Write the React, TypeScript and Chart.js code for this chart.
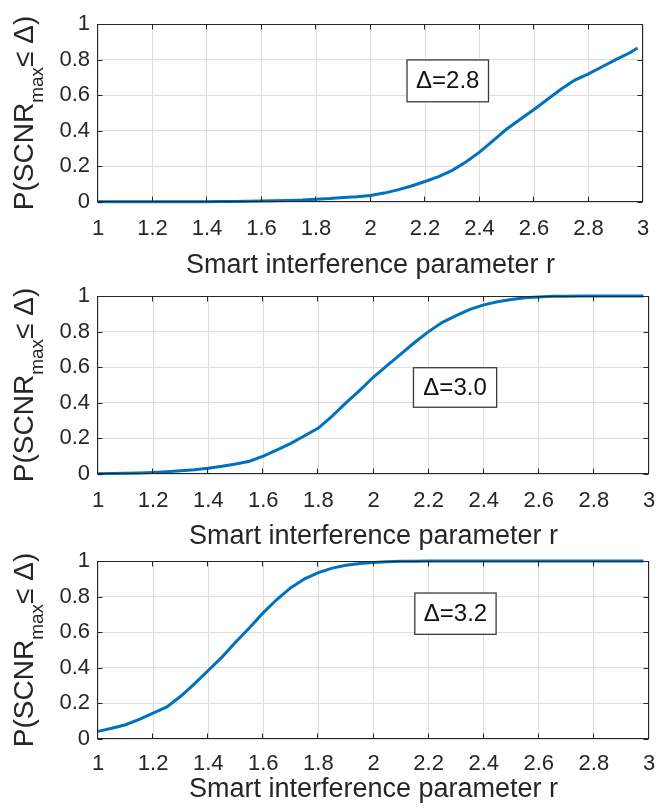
import React, { useEffect, useRef } from "react";
import { Chart, registerables } from "chart.js";

Chart.register(...registerables);

// Smart interference parameter r (shared sampling grid)
const rGrid = [
  1.0, 1.05, 1.1, 1.15, 1.2, 1.25, 1.3, 1.35, 1.4, 1.45, 1.5, 1.55, 1.6, 1.65, 1.7, 1.75,
  1.8, 1.85, 1.9, 1.95, 2.0, 2.05, 2.1, 2.15, 2.2, 2.25, 2.3, 2.35, 2.4, 2.45, 2.5, 2.55,
  2.6, 2.65, 2.7, 2.75, 2.8, 2.85, 2.9, 2.95, 2.98,
];

// P(SCNR_max <= Δ) for Δ = 2.8
const pDelta28 = [
  0.001, 0.001, 0.001, 0.001, 0.001, 0.001, 0.002, 0.002, 0.002, 0.003, 0.003, 0.004, 0.005,
  0.007, 0.009, 0.011, 0.015, 0.019, 0.025, 0.03, 0.037, 0.05, 0.068, 0.09, 0.115, 0.143,
  0.178, 0.225, 0.28, 0.345, 0.41, 0.465, 0.52, 0.577, 0.635, 0.685, 0.72, 0.76, 0.8, 0.837,
  0.865,
];

// Δ = 3.0
const pDelta30 = [
  0.002, 0.003, 0.004, 0.006, 0.009, 0.013, 0.018, 0.024, 0.032, 0.043, 0.056, 0.072, 0.1,
  0.135, 0.172, 0.215, 0.258, 0.325, 0.4, 0.47, 0.545, 0.61, 0.675, 0.74, 0.8, 0.852, 0.89,
  0.925, 0.95, 0.968, 0.98, 0.99, 0.995, 0.998, 0.999, 1, 1, 1, 1, 1, 1,
];

// Δ = 3.2
const pDelta32 = [
  0.043, 0.06, 0.08, 0.11, 0.145, 0.18, 0.24, 0.31, 0.385, 0.46, 0.545, 0.625, 0.71, 0.785,
  0.85, 0.9, 0.935, 0.96, 0.976, 0.986, 0.992, 0.996, 0.998, 0.999, 1, 1, 1, 1, 1, 1, 1, 1,
  1, 1, 1, 1, 1, 1, 1, 1, 1,
];

const xTickValues = [1, 1.2, 1.4, 1.6, 1.8, 2, 2.2, 2.4, 2.6, 2.8, 3];
const yTickValues = [0, 0.2, 0.4, 0.6, 0.8, 1];
const panelLabels = ["\u0394=2.8", "\u0394=3.0", "\u0394=3.2"];
const xTitle = "Smart interference parameter r";

const FONT = '"Liberation Sans", Arial, Helvetica, sans-serif';
const INK = "#262626";
const LINE = "#0072BD";

type Panel = {
  top: number;
  height: number;
  padTop: number;
  padRight: number;
  xAxisH: number;
  tickPad: number;
  titlePad: number;
  values: number[];
  label: string;
  box: [number, number, number, number]; // x1, yTop, x2, yBottom in data units
};

const panels: Panel[] = [
  { top: 0, height: 285, padTop: 24, padRight: 15, xAxisH: 83, tickPad: 14, titlePad: 3.3, values: pDelta28, label: panelLabels[0], box: [2.134, 0.798, 2.433, 0.563] },
  { top: 272, height: 285, padTop: 24, padRight: 9, xAxisH: 83, tickPad: 14, titlePad: 3.8, values: pDelta30, label: panelLabels[1], box: [2.145, 0.597, 2.447, 0.375] },
  { top: 537, height: 273, padTop: 24, padRight: 9, xAxisH: 71, tickPad: 12, titlePad: 3.8, values: pDelta32, label: panelLabels[2], box: [2.15, 0.82, 2.445, 0.588] },
];

const fmt = (v: number) => String(Number(Number(v).toFixed(1)));

function makeFramePlugin(p: Panel) {
  return {
    id: "matlabFrame",
    afterDraw(chart: any) {
      const { ctx, chartArea: a, scales } = chart;
      const x = scales.x;
      const y = scales.y;
      ctx.save();
      // annotation box
      const bx1 = x.getPixelForValue(p.box[0]);
      const bx2 = x.getPixelForValue(p.box[2]);
      const by1 = y.getPixelForValue(p.box[1]);
      const by2 = y.getPixelForValue(p.box[3]);
      ctx.fillStyle = "#ffffff";
      ctx.fillRect(bx1, by1, bx2 - bx1, by2 - by1);
      ctx.strokeStyle = "#3a3a3a";
      ctx.lineWidth = 1.3;
      ctx.strokeRect(bx1, by1, bx2 - bx1, by2 - by1);
      ctx.fillStyle = "#111111";
      ctx.font = `24px ${FONT}`;
      ctx.textAlign = "center";
      ctx.textBaseline = "middle";
      ctx.fillText(p.label, (bx1 + bx2) / 2, (by1 + by2) / 2 + 1);

      // axes box
      const L = Math.round(a.left) - 0.5;
      const R = Math.round(a.right) - 0.5;
      const T = Math.round(a.top) + 0.5;
      const B = Math.round(a.bottom) - 0.5;
      ctx.strokeStyle = INK;
      ctx.lineWidth = 1;
      ctx.strokeRect(L, T, R - L, B - T);
      // inward ticks on all four sides
      const tl = 5;
      ctx.beginPath();
      for (const v of xTickValues) {
        const px = Math.round(x.getPixelForValue(v)) - 0.5;
        ctx.moveTo(px, B);
        ctx.lineTo(px, B - tl);
        ctx.moveTo(px, T);
        ctx.lineTo(px, T + tl);
      }
      for (const v of yTickValues) {
        const py = Math.round(y.getPixelForValue(v)) + 0.5;
        ctx.moveTo(L, py);
        ctx.lineTo(L + tl, py);
        ctx.moveTo(R, py);
        ctx.lineTo(R - tl, py);
      }
      ctx.stroke();

      // y-axis label with subscript
      const main = `28px ${FONT}`;
      const sub = `19px ${FONT}`;
      const parts = [
        { t: "P(SCNR", f: main, dy: 0 },
        { t: "max", f: sub, dy: 10 },
        { t: "\u2264 \u0394)", f: main, dy: 0 },
      ];
      let total = 0;
      const widths: number[] = [];
      for (const part of parts) {
        ctx.font = part.f;
        const w = ctx.measureText(part.t).width;
        widths.push(w);
        total += w;
      }
      const cy = (a.top + a.bottom) / 2;
      ctx.translate(33, cy);
      ctx.rotate(-Math.PI / 2);
      ctx.fillStyle = INK;
      ctx.textAlign = "left";
      ctx.textBaseline = "alphabetic";
      let u = -total / 2;
      parts.forEach((part, i) => {
        ctx.font = part.f;
        ctx.fillText(part.t, u, part.dy);
        u += widths[i];
      });
      ctx.restore();
    },
  };
}

function PanelChart({ p }: { p: Panel }) {
  const ref = useRef<HTMLCanvasElement | null>(null);
  useEffect(() => {
    if (!ref.current) return;
    const data = rGrid.map((r, i) => ({ x: r, y: p.values[i] }));
    const chart = new Chart(ref.current, {
      type: "line",
      data: {
        datasets: [
          {
            data,
            borderColor: LINE,
            borderWidth: 3,
            pointRadius: 0,
            tension: 0,
            fill: false,
            clip: 6,
          } as any,
        ],
      },
      options: {
        animation: false,
        responsive: false,
        events: [],
        layout: { padding: { top: p.padTop, right: p.padRight, left: 0, bottom: 0 } },
        plugins: { legend: { display: false }, tooltip: { enabled: false } },
        scales: {
          x: {
            type: "linear",
            min: 1,
            max: 3,
            afterBuildTicks: (s: any) => {
              s.ticks = xTickValues.map((v) => ({ value: v }));
            },
            ticks: {
              autoSkip: false,
              maxRotation: 0,
              minRotation: 0,
              padding: p.tickPad,
              color: INK,
              font: { family: FONT, size: 22 },
              callback: (v: any) => fmt(v),
            },
            grid: { color: "#dedede", lineWidth: 1, drawTicks: false },
            border: { display: false },
            title: {
              display: true,
              text: xTitle,
              color: INK,
              font: { family: FONT, size: 27 },
              padding: { top: 0, bottom: p.titlePad },
            },
            afterFit: (s: any) => {
              s.height = p.xAxisH;
              s.paddingLeft = 0;
              s.paddingRight = 0;
            },
          },
          y: {
            type: "linear",
            min: 0,
            max: 1,
            afterBuildTicks: (s: any) => {
              s.ticks = yTickValues.map((v) => ({ value: v }));
            },
            ticks: {
              padding: 8,
              color: INK,
              font: { family: FONT, size: 22 },
              callback: (v: any) => fmt(v),
            },
            grid: { color: "#dedede", lineWidth: 1, drawTicks: false },
            border: { display: false },
            afterFit: (s: any) => {
              s.width = 98;
              s.paddingTop = 0;
              s.paddingBottom = 0;
            },
          },
        },
      } as any,
      plugins: [makeFramePlugin(p)],
    });
    return () => chart.destroy();
  }, [p]);
  return (
    <div style={{ position: "absolute", left: 0, top: p.top, width: 658, height: p.height }}>
      <canvas ref={ref} width={658} height={p.height} style={{ display: "block" }} />
    </div>
  );
}

export default function App() {
  return (
    <div
      style={{
        position: "absolute",
        left: 0,
        top: 0,
        width: 658,
        height: 810,
        overflow: "hidden",
        background: "#ffffff",
      }}
    >
      {panels.map((p, i) => (
        <PanelChart key={i} p={p} />
      ))}
    </div>
  );
}
